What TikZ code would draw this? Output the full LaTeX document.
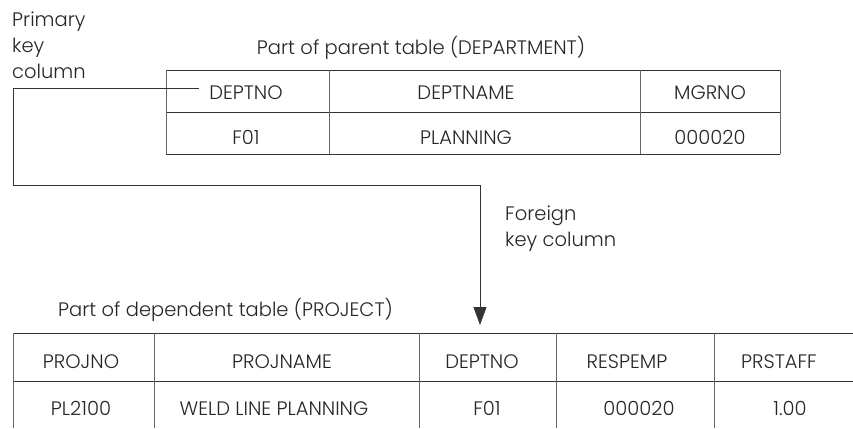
\documentclass[tikz,border=0pt]{standalone}
\usepackage{fontspec}
\setmainfont{Poppins}[UprightFont={* Light}]
\usetikzlibrary{arrows.meta}

\tikzset{
  cell/.style={anchor=base, inner sep=0pt, text=black!85},
  note/.style={anchor=base west, inner sep=0pt, align=left, text=black!85},
  hline/.style={draw=black!80, line width=0.9pt},
  vline/.style={draw=black!60, line width=1pt},
  link/.style={draw=black!80, line width=0.8pt}
}

\begin{document}
\begin{tikzpicture}[x=1pt,y=-1pt,font=\fontsize{19.5}{26}\selectfont]
    \useasboundingbox (0,0) rectangle (853,428);

    \node[note] (pklabel) at (12,78) {Primary\\key\\column};
    \node[note, anchor=base] (ptitle) at (421,55) {Part of parent table (DEPARTMENT)};

    \draw[hline] (166,70) -- (780,70);
    \draw[hline] (166,112) -- (780,112);
    \draw[hline] (166,154) -- (780,154);
    \foreach \x in {166,329,640,780} {
        \draw[vline] (\x,70) -- (\x,154);
    }
    \node[cell] (pdeptno) at (246,99) {DEPTNO};
    \node[cell] (pdeptname) at (466,99) {DEPTNAME};
    \node[cell] (pmgrno) at (710,99) {MGRNO};
    \node[cell] (pdeptval) at (246,144) {F01};
    \node[cell] (pnameval) at (466,144) {PLANNING};
    \node[cell] (pmgrval) at (710,144) {000020};

    \node[note] (fklabel) at (505,246) {Foreign\\key column};
    \node[note] (ctitle) at (58,316) {Part of dependent table (PROJECT)};

    \draw[hline] (13,333) -- (853,333);
    \draw[hline] (13,381) -- (853,381);
    \foreach \x in {13,154,419,556,714} {
        \draw[vline] (\x,333) -- (\x,428);
    }
    \node[cell] (cprojno) at (81,368) {PROJNO};
    \node[cell] (cprojname) at (282,368) {PROJNAME};
    \node[cell] (cdeptno) at (482,368) {DEPTNO};
    \node[cell] (crespemp) at (627,368) {RESPEMP};
    \node[cell] (cprstaff) at (779,368) {PRSTAFF};
    \node[cell] (cprojval) at (81,415) {PL2100};
    \node[cell] (cnameval) at (274,415) {WELD LINE PLANNING};
    \node[cell] (cdeptval) at (487,415) {F01};
    \node[cell] (crespval) at (639,415) {000020};
    \node[cell] (cstaffval) at (790,415) {1.00};

    \coordinate (pkstart) at ([xshift=-10pt]pdeptno.west |- 0,88);
    \coordinate (fktip) at (480,325);
    \draw[link, -{Triangle[length=18pt,width=13pt]}] (pkstart) -| (13,185) -| (fktip);
\end{tikzpicture}
\end{document}
